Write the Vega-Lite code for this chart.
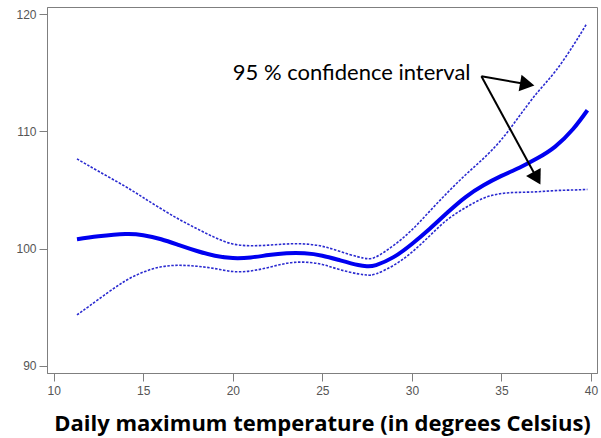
{
  "$schema": "https://vega.github.io/schema/vega-lite/v6.json",
  "width": 550,
  "height": 366,
  "autosize": {"type": "none"},
  "padding": {"left": 47, "top": 7, "right": 4, "bottom": 65},
  "background": "white",
  "config": {
    "view": {"stroke": "#7f7f7f", "strokeWidth": 1},
    "axis": {
      "grid": false,
      "domainColor": "#7f7f7f",
      "tickColor": "#7f7f7f",
      "labelColor": "#555555",
      "labelFont": "Liberation Sans",
      "labelFontSize": 12
    }
  },
  "datasets": {
    "curves": [
      {"x": 11.3, "y": 100.8, "series": "mean"},
      {"x": 12.5, "y": 101.05, "series": "mean"},
      {"x": 14.0, "y": 101.25, "series": "mean"},
      {"x": 15.0, "y": 101.15, "series": "mean"},
      {"x": 16.0, "y": 100.8, "series": "mean"},
      {"x": 17.0, "y": 100.3, "series": "mean"},
      {"x": 18.0, "y": 99.8, "series": "mean"},
      {"x": 19.0, "y": 99.4, "series": "mean"},
      {"x": 20.0, "y": 99.2, "series": "mean"},
      {"x": 21.0, "y": 99.25, "series": "mean"},
      {"x": 22.0, "y": 99.45, "series": "mean"},
      {"x": 23.0, "y": 99.6, "series": "mean"},
      {"x": 24.0, "y": 99.6, "series": "mean"},
      {"x": 25.0, "y": 99.4, "series": "mean"},
      {"x": 26.0, "y": 99.0, "series": "mean"},
      {"x": 27.0, "y": 98.6, "series": "mean"},
      {"x": 27.5, "y": 98.5, "series": "mean"},
      {"x": 28.0, "y": 98.6, "series": "mean"},
      {"x": 29.0, "y": 99.3, "series": "mean"},
      {"x": 30.0, "y": 100.4, "series": "mean"},
      {"x": 31.0, "y": 101.7, "series": "mean"},
      {"x": 32.0, "y": 103.1, "series": "mean"},
      {"x": 33.0, "y": 104.4, "series": "mean"},
      {"x": 34.0, "y": 105.4, "series": "mean"},
      {"x": 35.0, "y": 106.2, "series": "mean"},
      {"x": 36.0, "y": 106.9, "series": "mean"},
      {"x": 37.0, "y": 107.7, "series": "mean"},
      {"x": 38.0, "y": 108.7, "series": "mean"},
      {"x": 39.0, "y": 110.2, "series": "mean"},
      {"x": 39.8, "y": 111.8, "series": "mean"},
      {"x": 11.3, "y": 107.65, "series": "upper"},
      {"x": 12.5, "y": 106.6, "series": "upper"},
      {"x": 14.0, "y": 105.3, "series": "upper"},
      {"x": 15.0, "y": 104.35, "series": "upper"},
      {"x": 16.0, "y": 103.4, "series": "upper"},
      {"x": 17.0, "y": 102.5, "series": "upper"},
      {"x": 18.0, "y": 101.7, "series": "upper"},
      {"x": 19.0, "y": 100.95, "series": "upper"},
      {"x": 20.0, "y": 100.4, "series": "upper"},
      {"x": 21.0, "y": 100.25, "series": "upper"},
      {"x": 22.0, "y": 100.3, "series": "upper"},
      {"x": 23.0, "y": 100.4, "series": "upper"},
      {"x": 24.0, "y": 100.4, "series": "upper"},
      {"x": 25.0, "y": 100.2, "series": "upper"},
      {"x": 26.0, "y": 99.75, "series": "upper"},
      {"x": 27.0, "y": 99.3, "series": "upper"},
      {"x": 27.5, "y": 99.15, "series": "upper"},
      {"x": 28.0, "y": 99.3, "series": "upper"},
      {"x": 29.0, "y": 100.3, "series": "upper"},
      {"x": 30.0, "y": 101.6, "series": "upper"},
      {"x": 31.0, "y": 103.2, "series": "upper"},
      {"x": 32.0, "y": 104.8, "series": "upper"},
      {"x": 33.0, "y": 106.3, "series": "upper"},
      {"x": 34.0, "y": 107.7, "series": "upper"},
      {"x": 35.0, "y": 109.3, "series": "upper"},
      {"x": 36.0, "y": 111.3, "series": "upper"},
      {"x": 37.0, "y": 113.3, "series": "upper"},
      {"x": 38.0, "y": 115.1, "series": "upper"},
      {"x": 39.0, "y": 117.3, "series": "upper"},
      {"x": 39.75, "y": 119.15, "series": "upper"},
      {"x": 11.3, "y": 94.35, "series": "lower"},
      {"x": 12.0, "y": 95.12, "series": "lower"},
      {"x": 13.0, "y": 96.23, "series": "lower"},
      {"x": 14.0, "y": 97.25, "series": "lower"},
      {"x": 15.0, "y": 98.0, "series": "lower"},
      {"x": 16.0, "y": 98.45, "series": "lower"},
      {"x": 17.0, "y": 98.58, "series": "lower"},
      {"x": 18.0, "y": 98.5, "series": "lower"},
      {"x": 19.0, "y": 98.3, "series": "lower"},
      {"x": 20.0, "y": 98.05, "series": "lower"},
      {"x": 21.0, "y": 98.1, "series": "lower"},
      {"x": 22.0, "y": 98.4, "series": "lower"},
      {"x": 23.0, "y": 98.75, "series": "lower"},
      {"x": 24.0, "y": 98.85, "series": "lower"},
      {"x": 25.0, "y": 98.65, "series": "lower"},
      {"x": 26.0, "y": 98.2, "series": "lower"},
      {"x": 27.0, "y": 97.85, "series": "lower"},
      {"x": 27.5, "y": 97.75, "series": "lower"},
      {"x": 28.0, "y": 97.85, "series": "lower"},
      {"x": 29.0, "y": 98.6, "series": "lower"},
      {"x": 30.0, "y": 99.7, "series": "lower"},
      {"x": 31.0, "y": 101.1, "series": "lower"},
      {"x": 32.0, "y": 102.5, "series": "lower"},
      {"x": 33.0, "y": 103.5, "series": "lower"},
      {"x": 34.0, "y": 104.3, "series": "lower"},
      {"x": 35.0, "y": 104.7, "series": "lower"},
      {"x": 36.0, "y": 104.8, "series": "lower"},
      {"x": 37.0, "y": 104.85, "series": "lower"},
      {"x": 38.0, "y": 104.95, "series": "lower"},
      {"x": 39.0, "y": 105.0, "series": "lower"},
      {"x": 39.8, "y": 105.05, "series": "lower"}
    ],
    "arrows": [
      {"arrow": "upper", "x": 33.88, "y": 114.69, "x2": 36.44, "y2": 114.01},
      {"arrow": "lower", "x": 33.88, "y": 114.69, "x2": 36.98, "y2": 106.0}
    ],
    "note": [
      {"x": 20.0, "y": 114.37, "label": "95 % confidence interval"}
    ]
  },
  "layer": [
    {
      "mark": {"type": "rule", "color": "#d9d9d9", "strokeWidth": 1},
      "encoding": {"y": {"datum": 100, "type": "quantitative", "scale": {"domain": [89.4, 120.6], "nice": false, "zero": false}}}
    },
    {
      "data": {"name": "curves"},
      "transform": [{"filter": "datum.series !== 'mean'"}],
      "mark": {"type": "line", "color": "#2a2ad0", "strokeWidth": 1.6, "strokeDash": [2.5, 1.5], "interpolate": "natural"},
      "encoding": {
        "x": {"field": "x", "type": "quantitative", "scale": {"domain": [9.626, 40.335], "nice": false, "zero": false},
          "axis": {"values": [10, 15, 20, 25, 30, 35, 40], "tickSize": 8, "labelPadding": 4,
            "title": "Daily maximum temperature (in degrees Celsius)",
            "titleFont": "Open Sans", "titleFontWeight": "bold", "titleFontSize": 22, "titleColor": "#000000",
            "titleBaseline": "alphabetic", "titleY": 57}},
        "y": {"field": "y", "type": "quantitative", "scale": {"domain": [89.4, 120.6], "nice": false, "zero": false},
          "axis": {"values": [90, 100, 110, 120], "tickSize": 8, "labelPadding": 3, "title": null}},
        "detail": {"field": "series"}
      }
    },
    {
      "data": {"name": "curves"},
      "transform": [{"filter": "datum.series === 'mean'"}],
      "mark": {"type": "line", "color": "#0000f0", "strokeWidth": 4, "interpolate": "natural"},
      "encoding": {
        "x": {"field": "x", "type": "quantitative"},
        "y": {"field": "y", "type": "quantitative"}
      }
    },
    {
      "data": {"name": "note"},
      "mark": {"type": "text", "align": "left", "baseline": "alphabetic", "font": "Lato", "fontSize": 22, "color": "#000000"},
      "encoding": {
        "x": {"field": "x", "type": "quantitative"},
        "y": {"field": "y", "type": "quantitative"},
        "text": {"field": "label"}
      }
    },
    {
      "data": {"name": "arrows"},
      "mark": {"type": "rule", "color": "#000000", "strokeWidth": 2},
      "encoding": {
        "x": {"field": "x", "type": "quantitative"},
        "y": {"field": "y", "type": "quantitative"},
        "x2": {"field": "x2"},
        "y2": {"field": "y2"}
      }
    },
    {
      "data": {"name": "arrows"},
      "transform": [{"filter": "datum.arrow === 'upper'"}],
      "mark": {"type": "point", "shape": "triangle-right", "filled": true, "color": "#000000", "opacity": 1, "size": 280, "angle": 9.9},
      "encoding": {
        "x": {"field": "x2", "type": "quantitative"},
        "y": {"field": "y2", "type": "quantitative"}
      }
    },
    {
      "data": {"name": "arrows"},
      "transform": [{"filter": "datum.arrow === 'lower'"}],
      "mark": {"type": "point", "shape": "triangle-right", "filled": true, "color": "#000000", "opacity": 1, "size": 280, "angle": 61.1},
      "encoding": {
        "x": {"field": "x2", "type": "quantitative"},
        "y": {"field": "y2", "type": "quantitative"}
      }
    }
  ]
}
